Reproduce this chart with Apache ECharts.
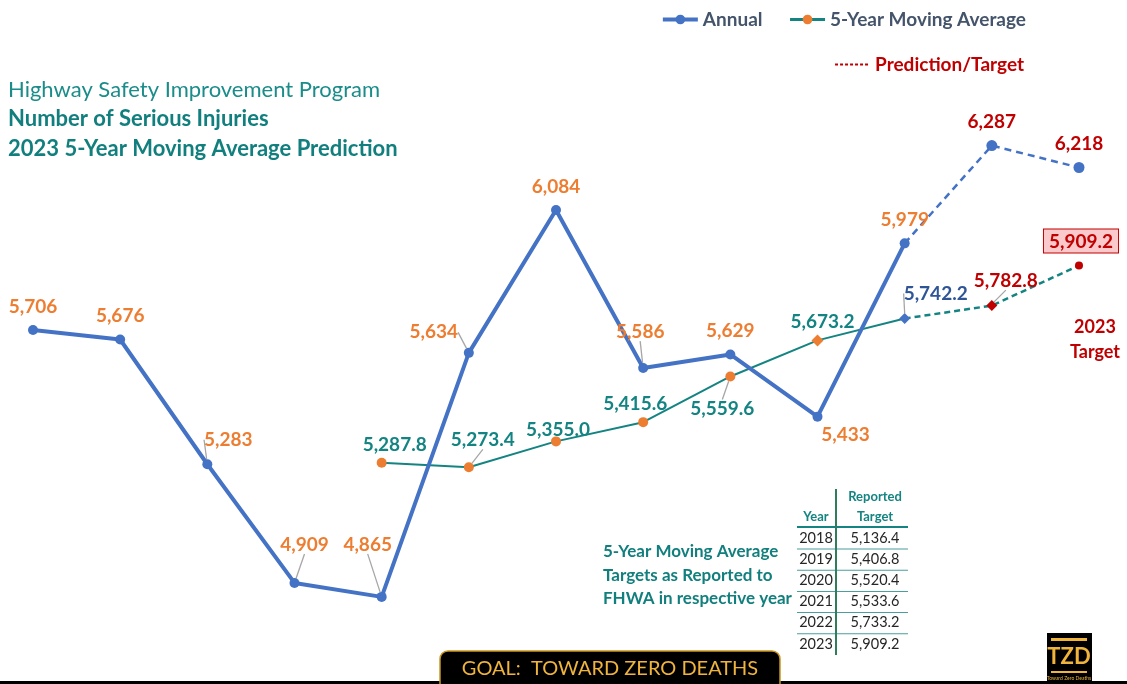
<!DOCTYPE html>
<html>
<head>
<meta charset="utf-8">
<title>Number of Serious Injuries</title>
<script src="https://cdn.jsdelivr.net/npm/echarts@6/dist/echarts.min.js"></script>
<style>
    html, body { margin: 0; padding: 0; background: #ffffff; }
    #chart { width: 1127px; height: 684px; }
</style>
</head>
<body>
<div id="chart"></div>
<script>
    var years = ['2011', '2012', '2013', '2014', '2015', '2016', '2017', '2018', '2019', '2020', '2021', '2022', '2023'];
    var annual = [5706, 5676, 5283, 4909, 4865, 5634, 6084, 5586, 5629, 5433, 5979, null, null];
    var annualPred = [null, null, null, null, null, null, null, null, null, null, 5979, 6287, 6218];
    var movingAvg = [null, null, null, null, 5287.8, 5273.4, 5355.0, 5415.6, 5559.6, 5673.2, 5742.2, null, null];
    var movingAvgPred = [null, null, null, null, null, null, null, null, null, null, 5742.2, 5782.8, 5909.2];
    var targetYears = ['2018', '2019', '2020', '2021', '2022', '2023'];
    var reportedTargets = [5136.4, 5406.8, 5520.4, 5533.6, 5733.2, 5909.2];

    var FONT = 'Lato, "Open Sans", sans-serif';
    var BLUE = '#4472c4', ORANGE = '#ed7d31', TEAL = '#138482', RED = '#c00000', NAVY = '#2f5597', SLATE = '#44546a';

    function fmt0(v) { return v.toLocaleString('en-US'); }
    function fmt1(v) { return v.toLocaleString('en-US', {minimumFractionDigits: 1, maximumFractionDigits: 1}); }

    // label nudges: [dx, dy, leader line]
    var annualNudge = {2: [21, -1, 1], 3: [10, -15, 1], 4: [-14, -29, 1], 5: [-35, 3, 1], 7: [-3, -13, 1], 9: [28, 42, 0]};
    var avgNudge = {4: [13, 6, 0], 5: [14, -4, 1], 6: [2, 12, 0], 7: [-8, 5, 0], 8: [-8, 56, 1], 9: [5, 6, 0], 10: [31, -1, 1], 11: [14, -1, 1], 12: [2, 0, 0]};

    function layoutFor(nudge) {
        return function (p) {
            var n = nudge[p.dataIndex];
            return n ? {dx: n[0], dy: n[1]} : {};
        };
    }

    function items(values, nudge, extra) {
        return values.map(function (v, i) {
            if (v == null) return null;
            var it = {value: v};
            var n = nudge[i];
            it.labelLine = {show: !!(n && n[2])};
            if (extra && extra[i]) Object.assign(it, extra[i]);
            return it;
        });
    }

    var labelBase = {show: true, position: 'top', distance: 9, fontFamily: FONT, fontWeight: 'bold', fontSize: 19};
    var leader = {show: false, lineStyle: {color: '#a6a6a6', width: 1.3}};

    var annualData = items(annual, annualNudge);
    var predData = items(annualPred, {}, {
        10: {symbol: 'none', label: {show: false}}
    });
    var avgData = items(movingAvg, avgNudge, {
        9: {symbol: 'diamond', symbolSize: 12},
        10: {symbol: 'diamond', symbolSize: 11, itemStyle: {color: BLUE}, label: {color: NAVY}}
    });
    var avgPredData = items(movingAvgPred, avgNudge, {
        10: {symbol: 'none', label: {show: false}},
        11: {symbol: 'diamond', symbolSize: 11, itemStyle: {color: RED}, label: {color: RED}},
        12: {symbol: 'circle', symbolSize: 8, itemStyle: {color: RED},
            label: {color: RED, backgroundColor: '#f9c9cb', borderColor: RED, borderWidth: 1, padding: [3, 5, 1, 5]}}
    });

    // reported-target table, built from the arrays above
    var tableEls = [];
    var rowTop = 538, rowStep = 21.2;
    tableEls.push({type: 'text', x: 875, y: 497, style: {text: 'Reported', fill: TEAL, font: 'bold 13px ' + FONT, align: 'center', verticalAlign: 'middle'}});
    tableEls.push({type: 'text', x: 875, y: 517, style: {text: 'Target', fill: TEAL, font: 'bold 13px ' + FONT, align: 'center', verticalAlign: 'middle'}});
    tableEls.push({type: 'text', x: 816, y: 517, style: {text: 'Year', fill: TEAL, font: 'bold 13px ' + FONT, align: 'center', verticalAlign: 'middle'}});
    tableEls.push({type: 'rect', shape: {x: 797, y: 526, width: 111, height: 2}, style: {fill: TEAL}});
    targetYears.forEach(function (y, i) {
        var cy = rowTop + i * rowStep;
        tableEls.push({type: 'text', x: 816, y: cy, style: {text: y, fill: '#262626', font: '14.5px ' + FONT, align: 'center', verticalAlign: 'middle'}});
        tableEls.push({type: 'text', x: 875, y: cy, style: {text: fmt1(reportedTargets[i]), fill: '#262626', font: '14.5px ' + FONT, align: 'center', verticalAlign: 'middle'}});
        if (i < targetYears.length - 1) {
            tableEls.push({type: 'rect', shape: {x: 797, y: cy + 10.5, width: 111, height: 1}, style: {fill: '#4a9e9c'}});
        }
    });
    tableEls.push({type: 'rect', shape: {x: 835, y: 489, width: 2, height: 166}, style: {fill: '#2e7d5b'}});

    var chart = echarts.init(document.getElementById('chart'));

    var option = {
        backgroundColor: '#ffffff',
        animation: false,
        title: {
            left: 3,
            top: 70,
            text: '{a|Highway Safety Improvement Program}\n{b|Number of Serious Injuries}\n{b|2023 5-Year Moving Average Prediction}',
            textStyle: {
                rich: {
                    a: {fontFamily: FONT, fontSize: 22, fontWeight: 'normal', color: '#1a8c8a', lineHeight: 29.5},
                    b: {fontFamily: FONT, fontSize: 22, fontWeight: 'bold', color: '#117f7d', lineHeight: 29.5}
                }
            }
        },
        legend: [
            {
                data: [
                    {name: 'Annual', lineStyle: {width: 4}},
                    {name: '5-Year Moving Average', lineStyle: {width: 3}}
                ],
                top: 5,
                right: 96,
                itemWidth: 35,
                itemHeight: 12,
                itemGap: 26,
                textStyle: {fontFamily: FONT, fontSize: 19, fontWeight: 'bold', color: SLATE}
            },
            {
                data: ['Prediction/Target'],
                top: 50,
                right: 98,
                itemWidth: 35,
                itemHeight: 12,
                textStyle: {fontFamily: FONT, fontSize: 19, fontWeight: 'bold', color: RED}
            }
        ],
        grid: {left: 33, right: 48, top: 78, bottom: 3},
        xAxis: {type: 'category', data: years, boundaryGap: false, show: false},
        yAxis: {type: 'value', min: 4600, max: 6500, show: false},
        series: [
            {
                name: '5-Year Moving Average',
                type: 'line',
                data: avgData,
                symbol: 'circle',
                symbolSize: 10,
                itemStyle: {color: ORANGE},
                lineStyle: {color: TEAL, width: 2},
                label: Object.assign({}, labelBase, {color: TEAL, formatter: function (p) { return fmt1(p.value); }}),
                labelLine: leader,
                labelLayout: layoutFor(avgNudge)
            },
            {
                name: 'avgPred',
                type: 'line',
                data: avgPredData,
                symbol: 'circle',
                symbolSize: 10,
                itemStyle: {color: ORANGE},
                lineStyle: {color: TEAL, width: 2.5, type: [6, 4]},
                label: Object.assign({}, labelBase, {color: TEAL, formatter: function (p) { return fmt1(p.value); }}),
                labelLine: leader,
                labelLayout: layoutFor(avgNudge)
            },
            {
                name: 'Annual',
                type: 'line',
                data: annualData,
                symbol: 'circle',
                symbolSize: 10,
                itemStyle: {color: BLUE},
                lineStyle: {color: BLUE, width: 4},
                label: Object.assign({}, labelBase, {color: ORANGE, formatter: function (p) { return fmt0(p.value); }}),
                labelLine: leader,
                labelLayout: layoutFor(annualNudge)
            },
            {
                name: 'annualPred',
                type: 'line',
                data: predData,
                symbol: 'circle',
                symbolSize: 11,
                itemStyle: {color: BLUE},
                lineStyle: {color: BLUE, width: 2.5, type: [7, 5]},
                label: Object.assign({}, labelBase, {color: RED, formatter: function (p) { return fmt0(p.value); }})
            },
            {
                name: 'Prediction/Target',
                type: 'line',
                data: [],
                symbol: 'circle',
                itemStyle: {color: 'rgba(0,0,0,0)', borderColor: 'rgba(0,0,0,0)', borderWidth: 0},
                lineStyle: {color: RED, width: 1, type: [3, 2]}
            }
        ],
        graphic: [
            {type: 'text', x: 1095, y: 327, style: {text: '2023', fill: RED, font: 'bold 18px ' + FONT, align: 'center', verticalAlign: 'middle'}},
            {type: 'text', x: 1095, y: 352, style: {text: 'Target', fill: RED, font: 'bold 18px ' + FONT, align: 'center', verticalAlign: 'middle'}},
            {type: 'text', x: 603, y: 540, style: {text: '5-Year Moving Average\nTargets as Reported to\nFHWA in respective year', fill: '#117f7d', font: 'bold 17px ' + FONT, lineHeight: 23.5}},
            {type: 'group', children: tableEls},
            {type: 'rect', shape: {x: 0, y: 681, width: 1127, height: 3}, style: {fill: '#000000'}},
            {type: 'rect', shape: {x: 440, y: 651, width: 340, height: 40, r: 8}, style: {fill: '#000000', stroke: '#c8961e', lineWidth: 1.5}},
            {type: 'text', x: 610, y: 669, style: {text: 'GOAL:  TOWARD ZERO DEATHS', fill: '#f0b43c', font: '20px ' + FONT, align: 'center', verticalAlign: 'middle'}},
            {type: 'group', children: [
                {type: 'rect', shape: {x: 1047, y: 633, width: 45, height: 51}, style: {fill: '#000000'}},
                {type: 'rect', shape: {x: 1051, y: 638, width: 36, height: 3}, style: {fill: '#f0b43c'}},
                {type: 'text', x: 1069, y: 657, style: {text: 'TZD', fill: '#f0b43c', font: 'bold 22px ' + FONT, align: 'center', verticalAlign: 'middle'}},
                {type: 'rect', shape: {x: 1051, y: 671, width: 36, height: 2}, style: {fill: '#f0b43c'}},
                {type: 'text', x: 1069, y: 678, style: {text: 'Toward Zero Deaths', fill: '#f0b43c', font: '5px ' + FONT, align: 'center', verticalAlign: 'middle'}}
            ]}
        ]
    };

    chart.setOption(option);
    window.onresize = function () {
        chart.resize();
    };
</script>
</body>
</html>
